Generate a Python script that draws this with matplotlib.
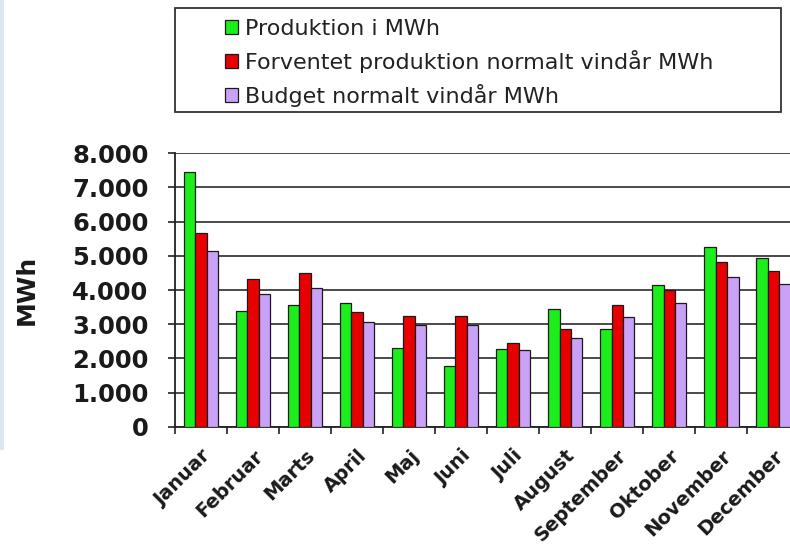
import matplotlib
matplotlib.use('Agg')
import matplotlib.pyplot as plt
from matplotlib.patches import Rectangle
from matplotlib.ticker import FuncFormatter
import numpy as np

months = ['Januar', 'Februar', 'Marts', 'April', 'Maj', 'Juni', 'Juli',
          'August', 'September', 'Oktober', 'November', 'December']
produktion = [7450, 3400, 3560, 3630, 2300, 1780, 2270, 3440, 2860, 4160, 5250, 4950]
forventet = [5660, 4310, 4490, 3370, 3250, 3250, 2450, 2860, 3550, 3990, 4810, 4570]
budget = [5140, 3880, 4070, 3050, 2980, 2980, 2230, 2610, 3220, 3630, 4390, 4170]

labels = ['Produktion i MWh',
          'Forventet produktion normalt vindår MWh',
          'Budget normalt vindår MWh']
colors = ['#1cee1c', '#e80000', '#c9a2f7']

fig = plt.figure(figsize=(7.9, 5.56), dpi=100)
fig.patch.set_facecolor('white')

# thin blue strip on the left edge
fig.patches.append(Rectangle((0, 1 - 450/556), 4/790, 450/556, transform=fig.transFigure,
                             facecolor='#dbe6f3', edgecolor='none', zorder=0))

ax = fig.add_axes([175/790, 1 - 426.7/556, 624.4/790, 273.4/556])
x = np.arange(len(months))
w = 0.22
for i, (vals, lab, col) in enumerate(zip([produktion, forventet, budget], labels, colors)):
    ax.bar(x + (i - 1) * w, vals, width=w, color=col, edgecolor='#1a1a1a',
           linewidth=0.9, label=lab, zorder=3)

ax.set_xlim(-0.5, 11.5)
ax.set_ylim(0, 8000)
ax.set_yticks(range(0, 8001, 1000))
ax.yaxis.set_major_formatter(FuncFormatter(lambda v, p: '{:,.0f}'.format(v).replace(',', '.')))
ax.grid(axis='y', color='#4a4a4a', linewidth=1.4, zorder=1)
ax.set_axisbelow(True)

for s in ['top', 'right']:
    ax.spines[s].set_visible(False)
for s in ['left', 'bottom']:
    ax.spines[s].set_color('#222222')
    ax.spines[s].set_linewidth(1.3)

ax.tick_params(axis='y', direction='out', length=5, width=1.2, color='#222222',
               pad=14, labelsize=17.5)
for t in ax.get_yticklabels():
    t.set_fontweight('bold')
    t.set_color('#1a1a1a')

ax.set_xticks(x)
ax.set_xticklabels(months, rotation=45, ha='right', rotation_mode='anchor',
                   fontsize=14, fontweight='bold', color='#1a1a1a')
ax.tick_params(axis='x', which='major', length=0, pad=14)
ax.set_xticks(np.arange(-0.5, 11.6, 1), minor=True)
ax.tick_params(axis='x', which='minor', direction='out', length=5, width=1.2, color='#222222')

ax.set_ylabel('MWh', fontsize=18, fontweight='bold', color='#1a1a1a')
ax.yaxis.set_label_coords(-136/624.4, 0.5)

# legend box
fig.patches.append(Rectangle((175/790, 1 - 112/556), 606/790, 104/556, transform=fig.transFigure,
                             facecolor='white', edgecolor='#333333', linewidth=1.3, zorder=1))
fig.legend(loc='upper left', bbox_to_anchor=(209/790, 1 - 3/556), frameon=False,
           fontsize=16, handlelength=0.6, handleheight=0.6, handletextpad=0.3,
           labelspacing=0.5, borderpad=0.2, labelcolor='#222222')

plt.savefig('out.png', dpi=100)
